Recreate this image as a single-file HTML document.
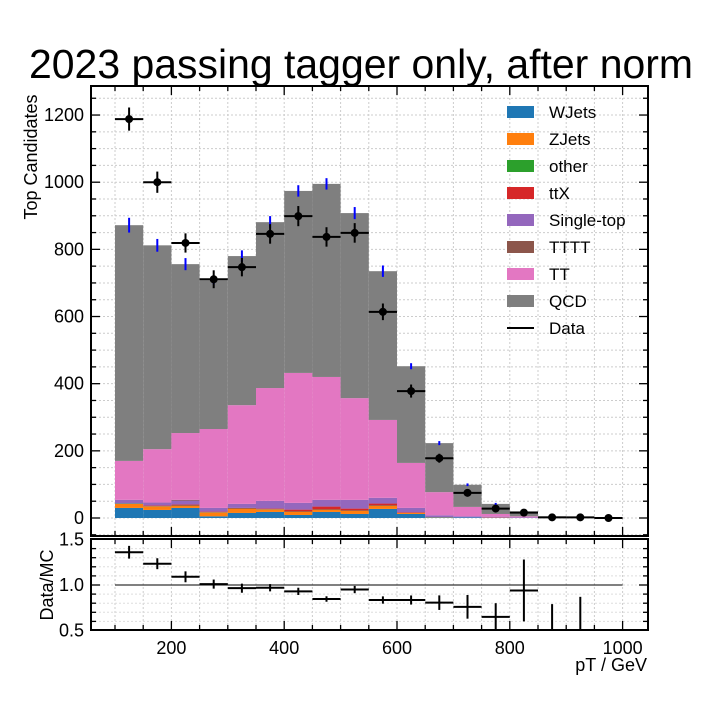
<!DOCTYPE html>
<html><head><meta charset="utf-8">
<style>
html,body{margin:0;padding:0;background:#fff;}
svg text{font-family:"Liberation Sans",sans-serif;}
</style></head>
<body>
<svg id="chart" width="720" height="720" viewBox="0 0 720 720" xmlns="http://www.w3.org/2000/svg">
<rect x="0" y="0" width="720" height="720" fill="#fff"/>
<text x="361" y="78" font-size="41" text-anchor="middle" textLength="664" lengthAdjust="spacingAndGlyphs">2023 passing tagger only, after norm</text>
<g id="main-grid"></g>
<g id="stack"></g>
<g id="mcerr"></g>
<g id="data"></g>
<g id="main-axes"></g>
<g id="legend"></g>
<g id="ratio-grid"></g>
<g id="ratio"></g>
<g id="ratio-axes"></g>
<text transform="translate(37,157) rotate(-90)" font-size="18" text-anchor="middle">Top Candidates</text>
<text transform="translate(53,585) rotate(-90)" font-size="18" text-anchor="middle">Data/MC</text>
<text x="647" y="671" font-size="18" text-anchor="end">pT / GeV</text>
</svg>
<script>
const binEdges = [100,150,200,250,300,350,400,450,500,550,600,650,700,750,800,850,900,950,1000];
const wjets = [30,24,30,5,15,18,9,18,12,27,12,2,2,0,0,0,0,0];
const zjets = [12,10,6,11,12,7,9,6,9,9,3,1,0,1,0,0,0,0];
const other = [1,1,1,1,1,1,1,1,1,1,0,0,0,0,0,0,0,0];
const ttx = [0,2,3,2,2,2,6,9,6,6,2,0,0,0,0,0,0,0];
const singleTop = [11,9,12,11,12,23,20,20,26,17,13,5,3,3,2,1,1,0];
const tttt = [0,0,2,0,0,0,0,0,0,0,0,0,0,0,0,0,0,0];
const tt = [116,159,199,235,294,336,387,366,303,232,134,69,28,8,3,1,0,1];
const qcd = [702,607,503,443,444,494,542,575,551,443,288,146,66,30,15,3,3,1];
const mcErr = [22,19,18,12,17,18,17,17,18,17,9,6,4,3,0,0,0,0];
const dataVals = [1188,1000,819,711,747,846,899,837,849,614,378,178,75,28,16,2,2,0];
const ratioVals = [1.36,1.234,1.09,1.01,0.965,0.97,0.93,0.846,0.95,0.835,0.835,0.806,0.76,0.65,0.94,0.3,0.3,0];
const ratioErr = [0.07,0.06,0.06,0.05,0.05,0.04,0.04,0.03,0.04,0.04,0.05,0.08,0.13,0.15,0.34,0.49,0.57,0.4];
const yTicks = [0,200,400,600,800,1000,1200];
const xTicks = [200,400,600,800,1000];
const rTicks = [0.5,1.0,1.5];
const legendNames = ["WJets","ZJets","other","ttX","Single-top","TTTT","TT","QCD"];
const colors = ["#1f77b4","#ff7f0e","#2ca02c","#d62728","#9467bd","#8c564b","#e377c2","#7f7f7f"];

const NS="http://www.w3.org/2000/svg";
const L=91,R=648,T=86,B=536,RT=539,RB=630;
function X(v){return 115+(v-100)*0.564;}
function Y(v){return 518-v*0.3358;}
function RY(v){return 585-(v-1)*91;}
function mk(tag,attrs,parent){const e=document.createElementNS(NS,tag);for(const k in attrs)e.setAttribute(k,attrs[k]);parent.appendChild(e);return e;}
const g=id=>document.getElementById(id);

for(let v=50;v<1050;v+=50){const x=X(v);if(x<=L||x>=R)continue;
 let l=mk('line',{x1:x,x2:x,y1:T,y2:B,stroke:'#ccc','stroke-width':1,'stroke-dasharray':'2,2'},g('main-grid'));
 
 let l2=mk('line',{x1:x,x2:x,y1:RT,y2:RB,stroke:'#ccc','stroke-width':1,'stroke-dasharray':'2,2'},g('ratio-grid'));
 }
for(let v=-50;v<1300;v+=50){const y=Y(v);if(y<=T||y>=B)continue;
 let l=mk('line',{x1:L,x2:R,y1:y,y2:y,stroke:'#ccc','stroke-width':1,'stroke-dasharray':'2,2'},g('main-grid'));
 }
for(let v=0.6;v<1.5;v+=0.1){const y=RY(v);
 let l=mk('line',{x1:L,x2:R,y1:y,y2:y,stroke:'#ddd','stroke-width':1,'stroke-dasharray':'2,2'},g('ratio-grid'));
 }

const series=[wjets,zjets,other,ttx,singleTop,tttt,tt,qcd];
for(let i=0;i<binEdges.length-1;i++){
 let cum=0;const x0=X(binEdges[i]),x1=X(binEdges[i+1]);
 series.forEach((s,k)=>{if(s[i]<=0)return;
  const r=mk('rect',{x:x0,y:Y(cum+s[i]),width:x1-x0,height:Y(cum)-Y(cum+s[i]),fill:colors[k]},g('stack'));
  
  
  cum+=s[i];});
 if(mcErr[i]>0){const xc=(x0+x1)/2;
  const e=mk('line',{x1:xc,x2:xc,y1:Y(cum+mcErr[i]),y2:Y(cum-mcErr[i]),stroke:'#0000ff','stroke-width':2},g('mcerr'));
  }
}
for(let i=0;i<dataVals.length;i++){
 const x0=X(binEdges[i]),x1=X(binEdges[i+1]),xc=(x0+x1)/2,v=dataVals[i],err=Math.sqrt(v);
 const grp=mk('g',{},g('data'));
 
 mk('line',{x1:x0,x2:x1,y1:Y(v),y2:Y(v),stroke:'#000','stroke-width':2},grp);
 if(err>0)mk('line',{x1:xc,x2:xc,y1:Y(v+err),y2:Y(v-err),stroke:'#000','stroke-width':2},grp);
 mk('circle',{cx:xc,cy:Y(v),r:4,fill:'#000'},grp);
}
const ul=mk('line',{x1:X(100),x2:X(1000),y1:RY(1),y2:RY(1),stroke:'#000','stroke-width':1},g('ratio'));


for(let i=0;i<ratioVals.length;i++){
 const x0=X(binEdges[i]),x1=X(binEdges[i+1]),xc=(x0+x1)/2,v=ratioVals[i],e=ratioErr[i];
 const grp=mk('g',{},g('ratio'));
 
 const yv=RY(v);
 if(yv>=RT&&yv<=RB)mk('line',{x1:x0,x2:x1,y1:yv,y2:yv,stroke:'#000','stroke-width':2},grp);
 let ya=Math.max(RY(v+e),RT),yb=Math.min(RY(v-e),RB);
 if(yb>ya)mk('line',{x1:xc,x2:xc,y1:ya,y2:yb,stroke:'#000','stroke-width':2},grp);
}
function frame(parent,top,bot){mk('rect',{x:L,y:top,width:R-L,height:bot-top,fill:'none',stroke:'#000','stroke-width':2},parent);}
const ma=g('main-axes');frame(ma,T,B);
for(let v=-50;v<1300;v+=50){const y=Y(v);if(y<=T||y>=B)continue;const major=v%200===0;const len=major?9:5;
 mk('line',{x1:L,x2:L+len,y1:y,y2:y,stroke:'#000','stroke-width':1.3},ma);
 mk('line',{x1:R,x2:R-len,y1:y,y2:y,stroke:'#000','stroke-width':1.3},ma);}
yTicks.forEach(v=>{const t=mk('text',{x:L-7,y:Y(v)+6,'font-size':18,'text-anchor':'end'},ma);t.textContent=v;
 });
for(let v=100;v<1050;v+=50){const x=X(v);const major=v%200===0;const len=major?9:5;
 mk('line',{x1:x,x2:x,y1:B,y2:B-len,stroke:'#000','stroke-width':1.3},ma);
 mk('line',{x1:x,x2:x,y1:T,y2:T+len,stroke:'#000','stroke-width':1.3},ma);}
const ra=g('ratio-axes');frame(ra,RT,RB);
for(let v=0.6;v<1.5;v+=0.1){const y=RY(v);const major=Math.abs(v-1)<0.01;const len=major?9:5;
 mk('line',{x1:L,x2:L+len,y1:y,y2:y,stroke:'#000','stroke-width':1.3},ra);
 mk('line',{x1:R,x2:R-len,y1:y,y2:y,stroke:'#000','stroke-width':1.3},ra);}
rTicks.forEach(v=>{const t=mk('text',{x:L-7,y:RY(v)+6,'font-size':18,'text-anchor':'end'},ra);t.textContent=v.toFixed(1);
 });
for(let v=100;v<1050;v+=50){const x=X(v);const major=v%200===0;const len=major?9:5;
 mk('line',{x1:x,x2:x,y1:RB,y2:RB-len,stroke:'#000','stroke-width':1.3},ra);
 mk('line',{x1:x,x2:x,y1:RT,y2:RT+len,stroke:'#000','stroke-width':1.3},ra);}
xTicks.forEach(v=>{const t=mk('text',{x:X(v),y:RB+24,'font-size':18,'text-anchor':'middle'},ra);t.textContent=v;
 });
const lg=g('legend');
legendNames.concat(['Data']).forEach((n,i)=>{const y=112+i*27;
 const grp=mk('g',{},lg);
 
 if(n==='Data')mk('line',{x1:507,x2:534,y1:y,y2:y,stroke:'#000','stroke-width':2},grp);
 else mk('rect',{x:507,y:y-6,width:27,height:12,fill:colors[i]},grp);
 const t=mk('text',{x:549,y:y+6,'font-size':17},grp);t.textContent=n;});
</script>
</body></html>
